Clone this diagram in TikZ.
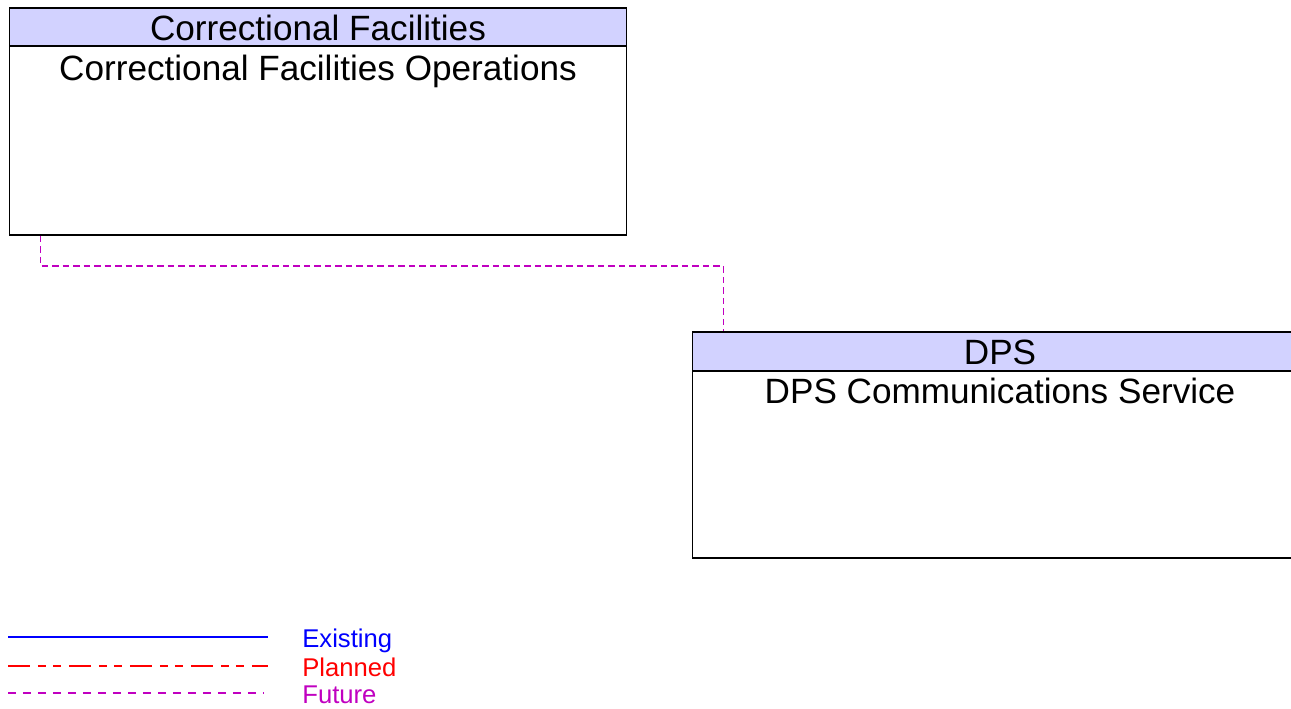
\documentclass[tikz,border=0pt]{standalone}
\usepackage{fontspec}
\setmainfont{Liberation Sans}
\usepackage{tikz}

\definecolor{headfill}{RGB}{210,210,255}
\definecolor{futurecol}{RGB}{192,0,192}
\definecolor{plannedcol}{RGB}{255,0,0}
\definecolor{existcol}{RGB}{0,0,255}

\tikzset{
    headbox/.style={draw, fill=headfill, line width=0.6pt, inner sep=0pt},
    bodybox/.style={draw, fill=white, line width=0.6pt, inner sep=0pt},
    boxtext/.style={anchor=base, inner sep=0pt, font=\fontsize{20}{24}\selectfont},
    legtext/.style={anchor=base west, inner sep=0pt, font=\fontsize{14.6}{17}\selectfont},
    futureflow/.style={futurecol, line width=0.6pt, dash pattern=on 0.13cm off 0.08cm},
    existline/.style={existcol, line width=1pt},
    plannedline/.style={plannedcol, line width=0.8pt, dash pattern=on 0.44cm off 0.16cm on 0.16cm off 0.14cm on 0.16cm off 0.16cm},
    futureline/.style={futurecol, line width=0.8pt, dash pattern=on 0.16cm off 0.14cm}
}

\begin{document}
\begin{tikzpicture}[x=0.02cm, y=-0.02cm]
                    \useasboundingbox (0,0) rectangle (1291,708);
                    % Nodes
                    \node[headbox, minimum width=12.36cm, minimum height=0.76cm] (cf) at (318,27) {};
                    \node[bodybox, minimum width=12.36cm, minimum height=3.78cm] (cfo) at (318,140.5) {};
                    \node[headbox, minimum width=12.32cm, minimum height=0.78cm] (dps) at (1000,351.5) {};
                    \node[bodybox, minimum width=12.32cm, minimum height=3.74cm] (dpscs) at (1000,464.5) {};
                    \node[boxtext] (cftext) at (318,40) {Correctional Facilities};
                    \node[boxtext] (cfotext) at (318,80) {Correctional Facilities Operations};
                    \node[boxtext] (dpstext) at (1000,364) {DPS};
                    \node[boxtext] (dpscstext) at (1000,403) {DPS Communications Service};
                    \coordinate (bend) at (400,266);
                    % Edges
                    \draw[futureflow] ([xshift=0.64cm]cfo.south west) |- (bend) -| ([xshift=0.64cm]dps.north west);
                    % Legend
                    \coordinate (ex1) at (8,637);
                    \coordinate (ex2) at (268,637);
                    \coordinate (pl1) at (8,666);
                    \coordinate (pl2) at (268,666);
                    \coordinate (fu1) at (8,693);
                    \coordinate (fu2) at (264,693);
                    \draw[existline] (ex1) -- (ex2);
                    \draw[plannedline] (pl1) -- (pl2);
                    \draw[futureline] (fu1) -- (fu2);
                    \node[legtext, text=existcol] (existing) at (302,647) {Existing};
                    \node[legtext, text=plannedcol] (planned) at (302,676) {Planned};
                    \node[legtext, text=futurecol] (future) at (302,703) {Future};
                \end{tikzpicture}
\end{document}
